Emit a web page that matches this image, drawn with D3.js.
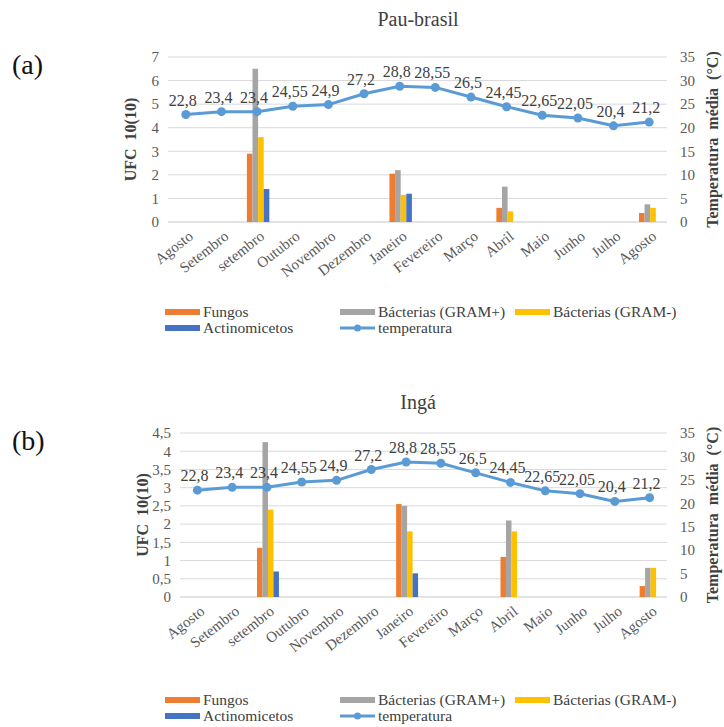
<!DOCTYPE html>
<html>
<head>
<meta charset="utf-8">
<script src="https://cdn.jsdelivr.net/npm/d3@7"></script>
<style>
  html, body { margin: 0; padding: 0; background: #fff; }
  svg { display: block; font-family: "Liberation Serif", "Times New Roman", serif; }
</style>
</head>
<body>
<svg id="chart" width="724" height="727"></svg>
<script>
// ---------- DATA ----------
const categories = ["Agosto", "Setembro", "setembro", "Outubro", "Novembro", "Dezembro", "Janeiro",
  "Fevereiro", "Março", "Abril", "Maio", "Junho", "Julho", "Agosto"];
const temperatura = [22.8, 23.4, 23.4, 24.55, 24.9, 27.2, 28.8, 28.55, 26.5, 24.45, 22.65, 22.05, 20.4, 21.2];

// Pau-brasil (a)
const fungosA = [null, null, 2.9, null, null, null, 2.05, null, null, 0.6, null, null, null, 0.38];
const gramPosA = [null, null, 6.5, null, null, null, 2.2, null, null, 1.5, null, null, null, 0.75];
const gramNegA = [null, null, 3.6, null, null, null, 1.15, null, null, 0.45, null, null, null, 0.6];
const actinoA = [null, null, 1.4, null, null, null, 1.2, null, null, null, null, null, null, null];

// Ingá (b)
const fungosB = [null, null, 1.35, null, null, null, 2.55, null, null, 1.1, null, null, null, 0.3];
const gramPosB = [null, null, 4.25, null, null, null, 2.5, null, null, 2.1, null, null, null, 0.8];
const gramNegB = [null, null, 2.4, null, null, null, 1.8, null, null, 1.8, null, null, null, 0.8];
const actinoB = [null, null, 0.7, null, null, null, 0.65, null, null, null, null, null, null, null];

const leftTicksA = [0, 1, 2, 3, 4, 5, 6, 7];
const leftTicksB = [0, 0.5, 1, 1.5, 2, 2.5, 3, 3.5, 4, 4.5];
const rightTicks = [0, 5, 10, 15, 20, 25, 30, 35];

const seriesNames = ["Fungos", "Bácterias (GRAM+)", "Bácterias (GRAM-)", "Actinomicetos"];
const seriesColors = ["#ED7D31", "#A5A5A5", "#FFC000", "#4472C4"];
const lineColor = "#5B9BD5";

const fmt = v => String(v).replace(".", ",");

const svg = d3.select("#chart");

function drawPanel(cfg) {
  const { title, label, titleY, labelY, x0, x1, y0, y1, leftMax, leftTicks, series, legendY } = cfg;
  const g = svg.append("g");

  const x = d3.scaleBand().domain(d3.range(categories.length)).range([x0, x1]);
  const yL = d3.scaleLinear().domain([0, leftMax]).range([y1, y0]);
  const yR = d3.scaleLinear().domain([0, 35]).range([y1, y0]);

  // title
  g.append("text").attr("x", 418).attr("y", titleY).attr("text-anchor", "middle")
    .attr("font-size", 20).attr("fill", "#404040").text(title);
  // panel label
  svg.append("text").attr("x", 12).attr("y", labelY).attr("font-size", 28)
    .attr("fill", "#111").text(label);

  // gridlines
  g.append("g").selectAll("line").data(leftTicks).join("line")
    .attr("x1", x0).attr("x2", x1)
    .attr("y1", d => yL(d)).attr("y2", d => yL(d))
    .attr("stroke", "#d9d9d9").attr("stroke-width", 1);

  // left axis
  const axL = g.append("g").attr("transform", `translate(${x0 - 6},0)`)
    .call(d3.axisLeft(yL).tickValues(leftTicks).tickSize(0).tickFormat(fmt));
  axL.select(".domain").remove();
  axL.selectAll("text").attr("font-size", 15).attr("fill", "#595959")
    .attr("font-family", "Liberation Serif, serif");

  // right axis
  const axR = g.append("g").attr("transform", `translate(${x1 + 10},0)`)
    .call(d3.axisRight(yR).tickValues(rightTicks).tickSize(0));
  axR.select(".domain").remove();
  axR.selectAll("text").attr("font-size", 15).attr("fill", "#595959")
    .attr("font-family", "Liberation Serif, serif");

  // axis titles
  g.append("text").attr("transform", `translate(${x0 - 32},${(y0 + y1) / 2}) rotate(-90)`)
    .attr("text-anchor", "middle").attr("font-size", 16).attr("font-weight", "bold")
    .attr("fill", "#404040").attr("xml:space", "preserve").text("UFC  10(10)");
  g.append("text").attr("transform", `translate(${712},${(y0 + y1) / 2}) rotate(-90)`)
    .attr("text-anchor", "middle").attr("dy", "0.35em").attr("font-size", 16).attr("font-weight", "bold")
    .attr("fill", "#404040").attr("xml:space", "preserve").text("Temperatura  média  (°C)");

  // baseline
  g.append("line").attr("x1", x0).attr("x2", x1).attr("y1", y1).attr("y2", y1)
    .attr("stroke", "#d9d9d9");

  // x labels
  g.append("g").selectAll("text").data(categories).join("text")
    .attr("transform", (d, i) => `translate(${x(i) + x.bandwidth() / 2 + 5},${y1 + 12}) rotate(-38)`)
    .attr("text-anchor", "end").attr("dy", "0.35em").attr("font-size", 15).attr("fill", "#595959")
    .text(d => d);

  // bars
  const inner = d3.scaleBand().domain(d3.range(4)).range([0, x.bandwidth() * 0.63]);
  const groupOff = (x.bandwidth() - x.bandwidth() * 0.63) / 2 + 1;
  series.forEach((s, si) => {
    g.append("g").selectAll("rect")
      .data(s.map((v, i) => ({ v, i })).filter(d => d.v != null))
      .join("rect")
      .attr("x", d => x(d.i) + groupOff + inner(si))
      .attr("width", inner.bandwidth())
      .attr("y", d => yL(d.v))
      .attr("height", d => yL(0) - yL(d.v))
      .attr("fill", seriesColors[si]);
  });

  // temperature line
  const line = d3.line().x((d, i) => x(i) + x.bandwidth() / 2).y(d => yR(d));
  g.append("path").datum(temperatura).attr("d", line)
    .attr("fill", "none").attr("stroke", lineColor).attr("stroke-width", 3).attr("stroke-linejoin", "round");
  g.append("g").selectAll("circle").data(temperatura).join("circle")
    .attr("cx", (d, i) => x(i) + x.bandwidth() / 2).attr("cy", d => yR(d)).attr("r", 4.5)
    .attr("fill", lineColor);
  g.append("g").selectAll("text").data(temperatura).join("text")
    .attr("x", (d, i) => x(i) + x.bandwidth() / 2 - 3).attr("y", d => yR(d) - 9)
    .attr("text-anchor", "middle").attr("font-size", 16).attr("fill", "#404040")
    .text(d => fmt(d));

  // legend
  const leg = g.append("g").attr("font-size", 15.5).attr("fill", "#404040");
  const items = [
    { name: seriesNames[0], color: seriesColors[0], x: 165, y: legendY },
    { name: seriesNames[1], color: seriesColors[1], x: 340, y: legendY },
    { name: seriesNames[2], color: seriesColors[2], x: 515, y: legendY },
    { name: seriesNames[3], color: seriesColors[3], x: 165, y: legendY + 16 }
  ];
  items.forEach(it => {
    leg.append("rect").attr("x", it.x).attr("y", it.y - 3).attr("width", 35).attr("height", 6).attr("fill", it.color);
    leg.append("text").attr("x", it.x + 38).attr("y", it.y).attr("dy", "0.35em").attr("fill", "#404040").text(it.name);
  });
  const ly = legendY + 16;
  leg.append("line").attr("x1", 340).attr("x2", 375).attr("y1", ly).attr("y2", ly)
    .attr("stroke", lineColor).attr("stroke-width", 3);
  leg.append("circle").attr("cx", 357.5).attr("cy", ly).attr("r", 3.5).attr("fill", lineColor);
  leg.append("text").attr("x", 378).attr("y", ly).attr("dy", "0.35em").attr("fill", "#404040").text("temperatura");
}

drawPanel({
  title: "Pau-brasil", label: "(a)", titleY: 26, labelY: 74,
  x0: 168, x1: 667, y0: 57, y1: 222, leftMax: 7, leftTicks: leftTicksA,
  series: [fungosA, gramPosA, gramNegA, actinoA], legendY: 312
});
drawPanel({
  title: "Ingá", label: "(b)", titleY: 409, labelY: 450,
  x0: 180, x1: 667, y0: 433, y1: 597, leftMax: 4.5, leftTicks: leftTicksB,
  series: [fungosB, gramPosB, gramNegB, actinoB], legendY: 700
});
</script>
</body>
</html>
